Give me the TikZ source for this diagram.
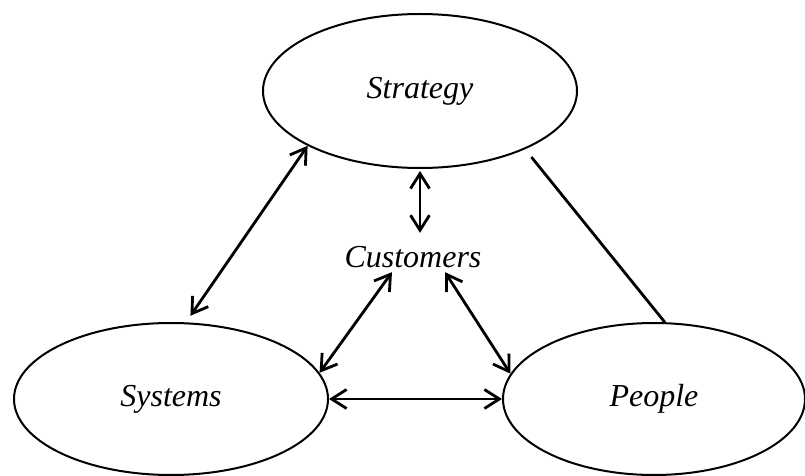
\documentclass[tikz,border=0pt]{standalone}
\usepackage{fontspec}
\setmainfont{Liberation Serif}
\usetikzlibrary{shapes.geometric,arrows.meta}

\begin{document}
\begin{tikzpicture}[x=0.5pt, y=-0.5pt, font=\fontsize{16}{19}\selectfont\itshape,
        >={Straight Barb[length=7.5pt,width=9.5pt]},
        oval/.style={draw, line width=1pt, ellipse, inner sep=0pt},
        link/.style={line width=1.4pt}]
        \useasboundingbox (0,0) rectangle (805,476);

        \node[oval, minimum width=157pt, minimum height=77pt] (strategy) at (420,91) {Strategy};
        \node[oval, minimum width=157pt, minimum height=76pt] (systems) at (171,399) {Systems};
        \node[oval, minimum width=151pt, minimum height=76pt] (people) at (654,399) {People};
        \node[inner sep=2pt] (customers) at (413,257) {Customers};

        \draw[link, <->, shorten >=4pt] (strategy.206) -- (systems.79);
        \draw[link, <->, shorten <=1pt, shorten >=4.5pt] (strategy.south) -- (strategy.south |- customers.north);
        \draw[link, <->] ([xshift=-10.5pt]customers.south) -- (systems.10);
        \draw[link, <->] ([xshift=16pt]customers.south) -- (people.170);
        \draw[link, <->] (systems.east) -- (people.west);
        \draw[link, shorten <=5pt] (strategy.-29) -- (people.82);
    \end{tikzpicture}
\end{document}
